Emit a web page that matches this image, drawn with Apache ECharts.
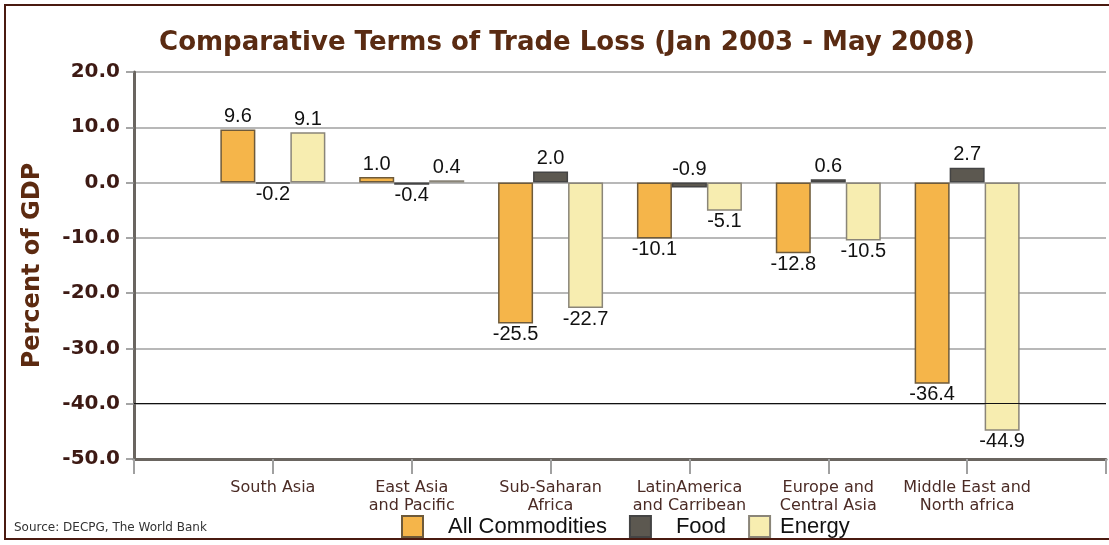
<!DOCTYPE html>
<html>
<head>
<meta charset="utf-8">
<script src="https://cdn.jsdelivr.net/npm/echarts@6/dist/echarts.min.js"></script>
<style>
  html, body { margin: 0; padding: 0; background: #fff; }
  #chart { width: 1109px; height: 545px; }
</style>
</head>
<body>
<div id="chart"></div>
<script>
// regions (empty slot before and after, like the original axis)
const regions = ["", "South Asia", "East Asia\nand Pacific", "Sub-Saharan\nAfrica",
  "LatinAmerica\nand Carribean", "Europe and\nCentral Asia", "Middle East and\nNorth africa", ""];
const allCommodities = ["-", 9.6, 1.0, -25.5, -10.1, -12.8, -36.4, "-"];
const food = ["-", -0.2, -0.4, 2.0, -0.9, 0.6, 2.7, "-"];
const energy = ["-", 9.1, 0.4, -22.7, -5.1, -10.5, -44.9, "-"];
const yTicks = [-50, -40, -30, -20, -10, 0, 10, 20];

// food label for LatinAmerica sits above the bar in the original
const labelAbove = ["LatinAmerica\nand Carribean"];

const myChart = echarts.init(document.getElementById("chart"));

//数据转换成带标签位置的格式
function toData(arr, isFood) {
  return arr.map((v, i) => {
    if (v === "-") return v;
    let pos = v < 0 ? "bottom" : "top";
    if (isFood && labelAbove.indexOf(regions[i]) >= 0) pos = "top";
    return { value: v, label: { position: pos, distance: pos === "top" ? 3 : 1 } };
  });
}

const barLabel = {
  show: true,
  color: "#111",
  fontFamily: "Liberation Sans",
  fontSize: 20,
  formatter: p => p.value.toFixed(1)
};

const option = {
  backgroundColor: "#fff",
  title: {
    text: "Comparative Terms of Trade Loss (Jan 2003 - May 2008)",
    left: 562,
    textAlign: "center",
    top: 25,
    textStyle: {
      color: "#5a2b12",
      fontFamily: "DejaVu Sans",
      fontWeight: "bold",
      fontSize: 26
    }
  },
  legend: {
    left: 396,
    top: 510,
    itemWidth: 21,
    itemHeight: 21,
    itemGap: 22,
    icon: "rect",
    textStyle: { color: "#111", fontFamily: "Liberation Sans", fontSize: 22 },
    data: [
      { name: "All Commodities", textStyle: { padding: [0, 0, 0, 20] } },
      { name: "Food", textStyle: { padding: [0, 0, 0, 20] } },
      { name: "Energy", textStyle: { padding: [0, 0, 0, 5] } }
    ]
  },
  graphic: [
    {
      type: "rect",
      shape: { x: 5, y: 5, width: 1200, height: 534 },
      style: { fill: null, stroke: "#4a1a10", lineWidth: 2 },
      silent: true
    },
    {
      type: "text",
      left: 14,
      top: 522,
      style: {
        text: "Source: DECPG, The World Bank",
        fill: "#333",
        font: "12px DejaVu Sans"
      }
    }
  ],
  grid: { left: 134, right: 0, top: 72, bottom: 86 },
  xAxis: {
    type: "category",
    data: regions,
    boundaryGap: false,
    axisLine: { onZero: false, lineStyle: { color: "#6a6560", width: 3 } },
    axisTick: { show: true, length: 15, lineStyle: { color: "#a0a0a0", width: 2 } },
    axisLabel: {
      color: "#4b2b25",
      fontFamily: "DejaVu Sans",
      fontSize: 16,
      lineHeight: 18,
      margin: 20,
      interval: 0
    },
    splitLine: { show: false }
  },
  yAxis: {
    type: "value",
    min: yTicks[0],
    max: yTicks[yTicks.length - 1],
    interval: 10,
    name: "Percent of GDP",
    nameLocation: "middle",
    nameGap: 89,
    nameTextStyle: {
      color: "#5c2a10",
      fontFamily: "DejaVu Sans",
      fontWeight: "bold",
      fontSize: 24
    },
    axisLine: { show: true, lineStyle: { color: "#6a6560", width: 3 } },
    axisTick: { show: true, length: 8, lineStyle: { color: "#888", width: 1.5 } },
    axisLabel: {
      color: "#3d1a14",
      fontFamily: "DejaVu Sans",
      fontWeight: "bold",
      fontSize: 20,
      margin: 14,
      formatter: v => v.toFixed(1)
    },
    splitLine: { show: true, lineStyle: { color: "#b8b8b8", width: 2 } }
  },
  series: [
    {
      name: "All Commodities",
      type: "bar",
      data: toData(allCommodities, false),
      barWidth: 35,
      barGap: "0%",
      itemStyle: { color: "#f5b54a", borderColor: "#6e5a3a", borderWidth: 1.5 },
      label: barLabel,
      markLine: {
        silent: true,
        symbol: "none",
        label: { show: false },
        lineStyle: { color: "#111", width: 1.2, type: "solid" },
        data: [{ yAxis: -40 }]
      }
    },
    {
      name: "Food",
      type: "bar",
      data: toData(food, true),
      barWidth: 35,
      itemStyle: { color: "#5c5850", borderColor: "#444", borderWidth: 1.5 },
      label: barLabel
    },
    {
      name: "Energy",
      type: "bar",
      data: toData(energy, false),
      barWidth: 35,
      itemStyle: { color: "#f7edb0", borderColor: "#8a8578", borderWidth: 1.5 },
      label: barLabel
    }
  ]
};
myChart.setOption(option);
</script>
</body>
</html>
